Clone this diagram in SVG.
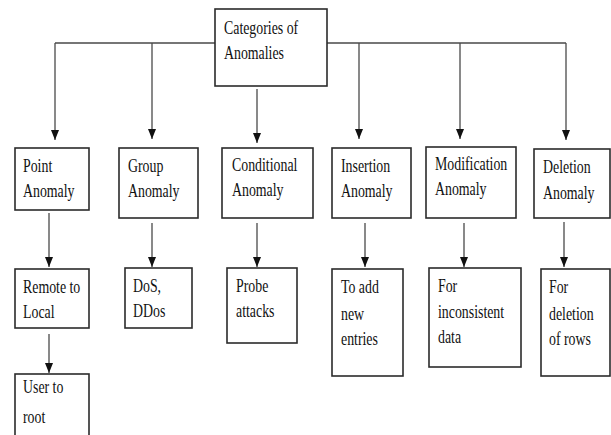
<svg xmlns="http://www.w3.org/2000/svg" width="611" height="435" viewBox="0 0 611 435">
<defs>
<style>
.box{fill:#fff;stroke:#2b2b2b;stroke-width:1.6}
.ln{fill:none;stroke:#4a4a4a;stroke-width:1.3}
.t{font-family:"Liberation Serif","Times New Roman",serif;font-size:18px;fill:#111}
</style>
<marker id="ah" markerUnits="userSpaceOnUse" markerWidth="8" markerHeight="10" refX="4" refY="10" orient="0" viewBox="0 0 8 10">
<path d="M0,0 L8,0 L4,10 z" fill="#111"/>
</marker>
</defs>
<rect width="611" height="435" fill="#fff"/>
<g id="connectors">
<path class="ln" d="M55,43 H215 M327,43 H566"/>
<path class="ln" d="M55,43 V140" marker-end="url(#ah)"/>
<path class="ln" d="M152,43 V139" marker-end="url(#ah)"/>
<path class="ln" d="M257,89 V143" marker-end="url(#ah)"/>
<path class="ln" d="M359,43 V139" marker-end="url(#ah)"/>
<path class="ln" d="M460,43 V139" marker-end="url(#ah)"/>
<path class="ln" d="M566,43 V140" marker-end="url(#ah)"/>
<path class="ln" d="M49,213 V267" marker-end="url(#ah)"/>
<path class="ln" d="M152,223 V267" marker-end="url(#ah)"/>
<path class="ln" d="M257,223 V267" marker-end="url(#ah)"/>
<path class="ln" d="M365,223 V267" marker-end="url(#ah)"/>
<path class="ln" d="M464,223 V267" marker-end="url(#ah)"/>
<path class="ln" d="M564,222 V267" marker-end="url(#ah)"/>
<path class="ln" d="M49,334 V373" marker-end="url(#ah)"/>
</g>
<g id="root">
<rect class="box" x="215" y="9" width="112" height="77"/>
<text class="t" transform="translate(224 34) scale(0.77 1)">Categories of</text>
<text class="t" transform="translate(224 59) scale(0.77 1)">Anomalies</text>
</g>
<g id="point">
<rect class="box" x="15" y="148" width="74" height="62"/>
<text class="t" transform="translate(23 172) scale(0.77 1)">Point</text>
<text class="t" transform="translate(23 197) scale(0.77 1)">Anomaly</text>
</g>
<g id="group">
<rect class="box" x="119" y="148" width="79" height="70"/>
<text class="t" transform="translate(128 172) scale(0.77 1)">Group</text>
<text class="t" transform="translate(128 197) scale(0.77 1)">Anomaly</text>
</g>
<g id="conditional">
<rect class="box" x="222" y="148" width="91" height="70"/>
<text class="t" transform="translate(232 171) scale(0.77 1)">Conditional</text>
<text class="t" transform="translate(232 196) scale(0.77 1)">Anomaly</text>
</g>
<g id="insertion">
<rect class="box" x="332" y="148" width="79" height="70"/>
<text class="t" transform="translate(341 172) scale(0.77 1)">Insertion</text>
<text class="t" transform="translate(341 197) scale(0.77 1)">Anomaly</text>
</g>
<g id="modification">
<rect class="box" x="426" y="147" width="90" height="71"/>
<text class="t" transform="translate(435 170) scale(0.77 1)">Modification</text>
<text class="t" transform="translate(435 195) scale(0.77 1)">Anomaly</text>
</g>
<g id="deletion">
<rect class="box" x="534" y="149" width="76" height="69"/>
<text class="t" transform="translate(543 173) scale(0.77 1)">Deletion</text>
<text class="t" transform="translate(543 199) scale(0.77 1)">Anomaly</text>
</g>
<g id="remote">
<rect class="box" x="15" y="269" width="74" height="59"/>
<text class="t" transform="translate(23 293) scale(0.77 1)">Remote to</text>
<text class="t" transform="translate(23 318) scale(0.77 1)">Local</text>
</g>
<g id="dos">
<rect class="box" x="125" y="268" width="67" height="60"/>
<text class="t" transform="translate(133 292) scale(0.77 1)">DoS,</text>
<text class="t" transform="translate(133 317) scale(0.77 1)">DDos</text>
</g>
<g id="probe">
<rect class="box" x="227" y="268" width="70" height="75"/>
<text class="t" transform="translate(236 292) scale(0.77 1)">Probe</text>
<text class="t" transform="translate(236 317) scale(0.77 1)">attacks</text>
</g>
<g id="toadd">
<rect class="box" x="332" y="269" width="71" height="107"/>
<text class="t" transform="translate(341 293) scale(0.77 1)">To add</text>
<text class="t" transform="translate(341 320) scale(0.77 1)">new</text>
<text class="t" transform="translate(341 345) scale(0.77 1)">entries</text>
</g>
<g id="inconsistent">
<rect class="box" x="429" y="268" width="92" height="99"/>
<text class="t" transform="translate(438 292) scale(0.77 1)">For</text>
<text class="t" transform="translate(438 318) scale(0.77 1)">inconsistent</text>
<text class="t" transform="translate(438 343) scale(0.77 1)">data</text>
</g>
<g id="rows">
<rect class="box" x="541" y="269" width="69" height="107"/>
<text class="t" transform="translate(549 293) scale(0.77 1)">For</text>
<text class="t" transform="translate(549 320) scale(0.77 1)">deletion</text>
<text class="t" transform="translate(549 345) scale(0.77 1)">of rows</text>
</g>
<g id="usertoroot">
<rect class="box" x="15" y="374" width="74" height="70"/>
<text class="t" transform="translate(23 393) scale(0.77 1)">User to</text>
<text class="t" transform="translate(23 423) scale(0.77 1)">root</text>
</g>
</svg>
